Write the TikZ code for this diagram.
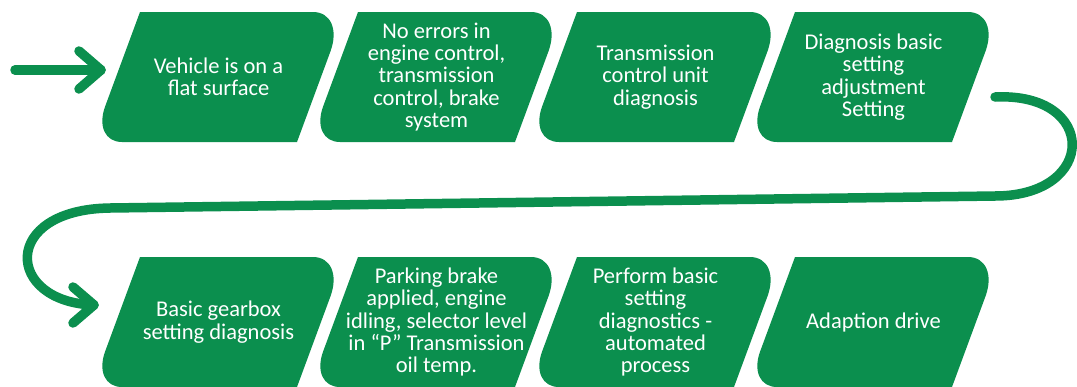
\documentclass[tikz,border=0pt]{standalone}
\usepackage{fontspec}
\setmainfont{Carlito}
\usetikzlibrary{calc}
\definecolor{flowgreen}{RGB}{11,143,78}
\tikzset{
  boxlabel/.style={text=white, align=center, font=\fontsize{22.5}{22.3}\selectfont, inner sep=0pt},
  flowline/.style={draw=flowgreen, line width=9.5pt, line cap=round, line join=round},
  boxfill/.style={fill=flowgreen},
}
\newcommand\greenbox[4]{%
  \coordinate (#1A) at (#2,#3);
  \coordinate (#1B) at (#2+205,#3);
  \coordinate (#1C) at (#2+157,#3+130);
  \coordinate (#1D) at (#2-48,#3+130);
  \path[boxfill] (#1A) -- ($(#1B)!32pt!(#1A)$) .. controls ($(#1B)!14pt!(#1A)$) and ($(#1B)!19pt!(#1C)$) .. ($(#1B)!42pt!(#1C)$) -- (#1C) -- ($(#1D)!30pt!(#1C)$) .. controls ($(#1D)!13pt!(#1C)$) and ($(#1D)!17pt!(#1A)$) .. ($(#1D)!38pt!(#1A)$) -- cycle;
  \node[boxlabel] (#1) at (#2+78.5,#3+65) {#4};
}
\begin{document}
\begin{tikzpicture}[x=1pt,y=-1pt]
\useasboundingbox (0,0) rectangle (1077,386);
\greenbox{b1}{140}{12}{Vehicle is on a\\flat surface}
\greenbox{b2}{358}{12}{No errors in\\engine control,\\transmission\\control, brake\\system}
\greenbox{b3}{577}{12}{Transmission\\control unit\\diagnosis}
\greenbox{b4}{795}{12}{Diagnosis basic\\setting\\adjustment\\Setting}
\greenbox{b5}{140}{257}{Basic gearbox\\setting diagnosis}
\greenbox{b6}{358}{257}{Parking brake\\applied, engine\\idling, selector level\\in “P” Transmission\\oil temp.}
\greenbox{b7}{577}{257}{Perform basic\\setting\\diagnostics -\\automated\\process}
\greenbox{b8}{795}{257}{Adaption drive}
% entry arrow
\coordinate (start) at (15,70);
\coordinate (tip1) at (101,70);
\draw[flowline] (start) -- (tip1);
\draw[flowline] ($(tip1)+(-22,-19)$) -- (tip1) -- ($(tip1)+(-22,19)$);
% loop connector
\coordinate (loopstart) at (995,97);
\coordinate (tip2) at (94,305);
\draw[flowline] (loopstart) .. controls (1098,92) and (1098,196) .. (995,196) -- (110,208) .. controls (0,209.5) and (5,302) .. (tip2);
\draw[flowline] ($(tip2)+(-21,-18)$) -- (tip2) -- ($(tip2)+(-21,18)$);
\end{tikzpicture}
\end{document}
